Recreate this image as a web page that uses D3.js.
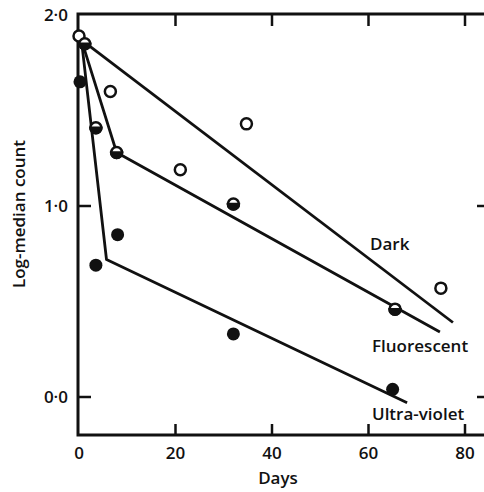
<!DOCTYPE html>
<html>
<head>
<meta charset="utf-8">
<script src="https://cdn.jsdelivr.net/npm/d3@7"></script>
<style>
  body { margin: 0; background: #fff; }
  text { font-family: "Open Sans", Lato, sans-serif; font-weight: 600; fill: #111; }
</style>
</head>
<body>
<div id="chart"></div>
<script>
// log-median counts
const darkPts = [[0, 1.89], [6.5, 1.60], [21, 1.19], [34.7, 1.43], [75, 0.57]];
const fluorPts = [[1.2, 1.85], [3.5, 1.41], [7.8, 1.28], [32, 1.01], [65.5, 0.46]];
const uvPts = [[0.2, 1.65], [3.5, 0.69], [8, 0.85], [32, 0.33], [65, 0.04]];

// fitted lines
const darkLine = [[0.5, 1.87], [77.5, 0.39]];
const fluorLine = [[0.5, 1.87], [7.8, 1.28], [74.8, 0.34]];
const uvLine = [[0.5, 1.87], [5.7, 0.72], [68, -0.03]];

const xTicks = [0, 20, 40, 60, 80];
const yTicks = [0, 1, 2];
const yTickLabels = ["0·0", "1·0", "2·0"];

const W = 484, H = 492;
const svg = d3.select("#chart").append("svg")
    .attr("width", W).attr("height", H);

const x = d3.scaleLinear().domain([0, 80]).range([79, 465]);
const y = d3.scaleLinear().domain([0, 2]).range([397, 15]);
const fLeft = 78, fRight = 490, fTop = 14, fBottom = 435;
const fs = "17px";

// frame
svg.append("rect")
    .attr("x", fLeft).attr("y", fTop)
    .attr("width", fRight - fLeft).attr("height", fBottom - fTop)
    .attr("fill", "none").attr("stroke", "#111").attr("stroke-width", 3);

// x ticks (bottom up, top down)
xTicks.filter(d => d > 0).forEach(d => {
  svg.append("line").attr("x1", x(d)).attr("x2", x(d))
      .attr("y1", fBottom).attr("y2", fBottom - 11)
      .attr("stroke", "#111").attr("stroke-width", 2.5);
  svg.append("line").attr("x1", x(d)).attr("x2", x(d))
      .attr("y1", fTop).attr("y2", fTop + 12)
      .attr("stroke", "#111").attr("stroke-width", 2.5);
});
svg.selectAll(".xl").data(xTicks).enter().append("text")
    .attr("x", d => x(d)).attr("y", 459)
    .attr("text-anchor", "middle")
    .style("font-size", fs)
    .text(d => d);

// y ticks (left and right, pointing in)
yTicks.filter(d => d < 2).forEach(d => {
  svg.append("line").attr("x1", fLeft).attr("x2", fLeft + 13)
      .attr("y1", y(d)).attr("y2", y(d))
      .attr("stroke", "#111").attr("stroke-width", 2.5);
  svg.append("line").attr("x1", fRight).attr("x2", fRight - 13)
      .attr("y1", y(d)).attr("y2", y(d))
      .attr("stroke", "#111").attr("stroke-width", 2.5);
});
svg.selectAll(".yl").data(yTicks).enter().append("text")
    .attr("x", 68).attr("y", d => y(d) + 6)
    .attr("text-anchor", "end")
    .style("font-size", fs)
    .text((d, i) => yTickLabels[i]);

svg.append("text")
    .attr("transform", "translate(25,214) rotate(-90)")
    .attr("text-anchor", "middle")
    .style("font-size", fs)
    .text("Log-median count");
svg.append("text")
    .attr("x", 278).attr("y", 484)
    .attr("text-anchor", "middle")
    .style("font-size", fs)
    .text("Days");

// lines
const line = d3.line().x(d => x(d[0])).y(d => y(d[1]));
[darkLine, fluorLine, uvLine].forEach(l => {
  svg.append("path").attr("d", line(l))
      .attr("fill", "none").attr("stroke", "#111")
      .attr("stroke-width", 2.8).attr("stroke-linejoin", "round");
});

// points
const r = 5.5;
svg.selectAll(".dark").data(darkPts).enter().append("circle")
    .attr("cx", d => x(d[0])).attr("cy", d => y(d[1])).attr("r", r)
    .attr("fill", "#fff").attr("stroke", "#111").attr("stroke-width", 2.5);

const fg = svg.selectAll(".fl").data(fluorPts).enter().append("g")
    .attr("transform", d => `translate(${x(d[0])},${y(d[1])})`);
fg.append("circle").attr("r", r)
    .attr("fill", "#fff").attr("stroke", "#111").attr("stroke-width", 2.5);
fg.append("path")
    .attr("d", `M${-r},0 A${r},${r} 0 0 0 ${r},0 Z`)
    .attr("fill", "#111").attr("stroke", "#111").attr("stroke-width", 2.5);

svg.selectAll(".uv").data(uvPts).enter().append("circle")
    .attr("cx", d => x(d[0])).attr("cy", d => y(d[1])).attr("r", 6.5)
    .attr("fill", "#111");

// series labels
svg.append("text").attr("x", 370).attr("y", 250)
    .style("font-size", fs).text("Dark");
svg.append("text").attr("x", 372).attr("y", 352)
    .style("font-size", fs).text("Fluorescent");
svg.append("text").attr("x", 372).attr("y", 420)
    .style("font-size", fs).text("Ultra-violet");
</script>
</body>
</html>
